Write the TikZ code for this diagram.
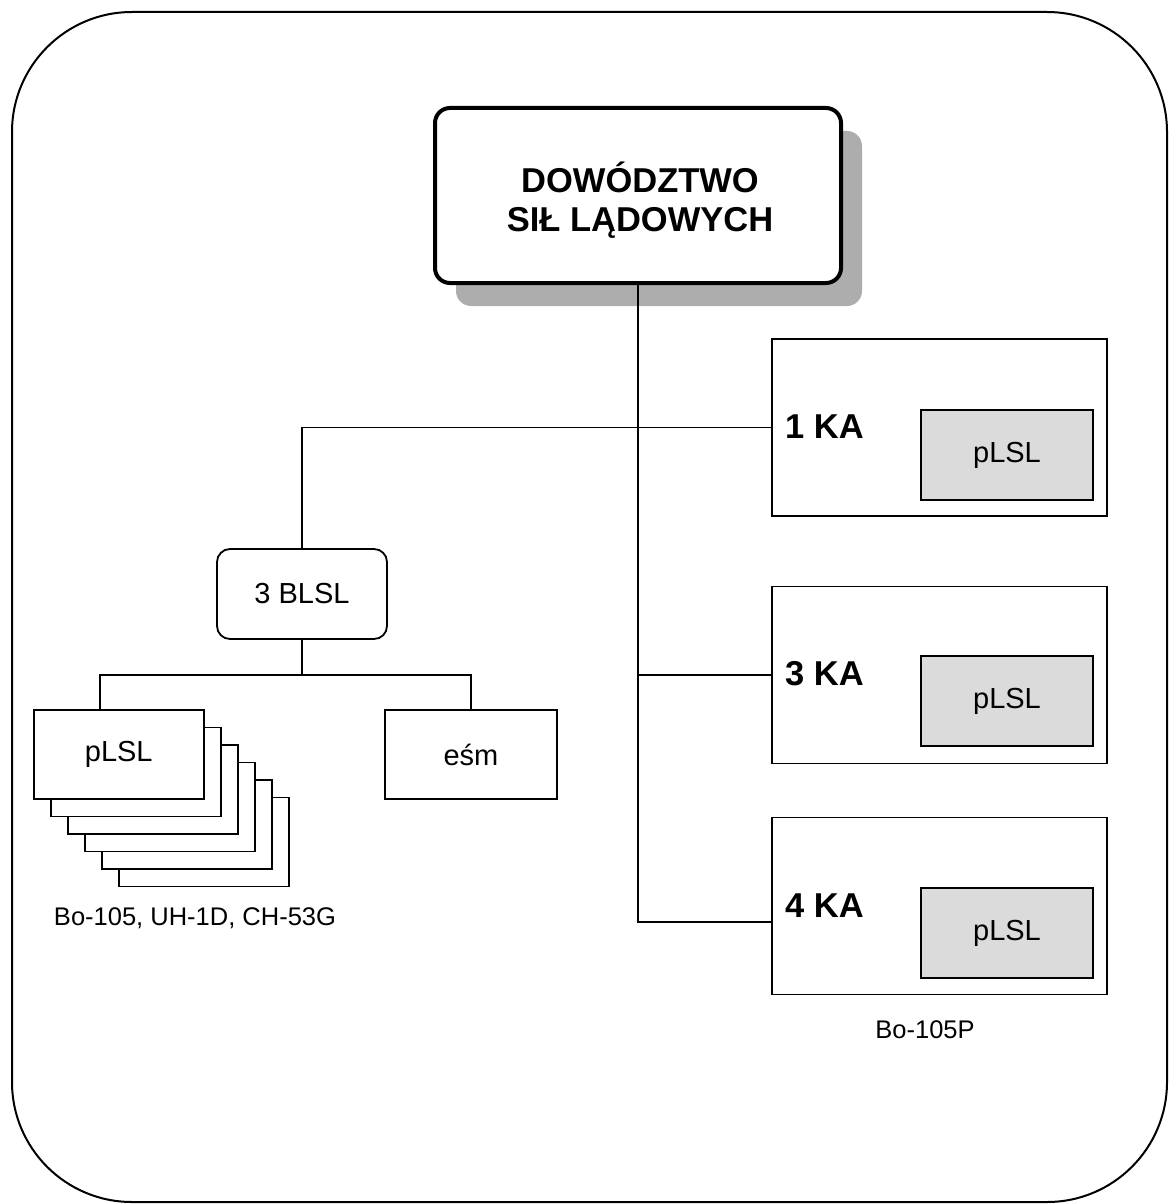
\documentclass[tikz,border=0pt]{standalone}
\usepackage{fontspec}
\setmainfont{Liberation Sans}
\usetikzlibrary{shadows}
\definecolor{shadowgray}{gray}{0.68}
\definecolor{innergray}{gray}{0.86}
\begin{document}
\begin{tikzpicture}[x=1pt,y=-1pt,
  conn/.style={line width=1.8pt},
  box/.style={draw, line width=1.8pt, fill=white, inner sep=0pt},
  reg/.style={font=\fontsize{25.5}{28}\selectfont},
  boxtext/.style={font=\fontsize{29}{32}\selectfont},
  bold/.style={font=\fontsize{34.5}{39}\selectfont\bfseries},
  kabox/.style={box, minimum width=335pt, minimum height=177pt},
  inbox/.style={box, fill=innergray, minimum width=172pt, minimum height=90pt, boxtext},
  stackbox/.style={box, minimum width=170pt, minimum height=89pt},
  kalabel/.style={bold, anchor=base west, inner sep=0pt}]
\useasboundingbox (0,0) rectangle (1169,1204);
% outer frame
\draw[line width=2pt, rounded corners=120pt] (12,12) rectangle (1167,1202);

% top node
\node[box, line width=4pt, rounded corners=15pt, minimum width=406pt, minimum height=175pt,
      drop shadow={shadow xshift=21pt, shadow yshift=-23pt, fill=shadowgray, opacity=1}] (top) at (638,195.5) {};
\node[bold, align=center, inner sep=0pt] (toptext) at (640,200) {DOWÓDZTWO\\SIŁ LĄDOWYCH};

% KA boxes
\node[kabox] (ka1) at (939.5,427.5) {};
\node[kabox] (ka3) at (939.5,675) {};
\node[kabox] (ka4) at (939.5,906) {};
\node[inbox] (in1) at (1007,455) {pLSL};
\node[inbox] (in3) at (1007,701) {pLSL};
\node[inbox] (in4) at (1007,933) {pLSL};
\node[kalabel] (l1) at (785,438) {1 KA};
\node[kalabel] (l3) at (785,685) {3 KA};
\node[kalabel] (l4) at (785,917) {4 KA};

% 3 BLSL
\node[box, rounded corners=13pt, minimum width=170pt, minimum height=90pt, boxtext] (blsl) at (302,594) {3 BLSL};

% stack of pLSL
\foreach \k in {5,4,3,2,1}
  \node[stackbox] (s\k) at ({118.75+17*\k},{754.5+17.5*\k}) {};
\node[stackbox, boxtext] (ps) at (118.75,754.5) {pLSL};
\node[stackbox, minimum width=172pt, boxtext] (esm) at (471,754.5) {eśm};

% labels
\node[reg] (lb1) at (195,918) {Bo-105, UH-1D, CH-53G};
\node[reg] (lb2) at (925,1030) {Bo-105P};

% connectors
\coordinate (bj) at (302,675);
\draw[conn] (blsl.north) |- (ka1.west);
\draw[conn] (top.south) |- ([yshift=-16pt]ka4.west);
\draw[conn] (top.south |- ka3.west) -- (ka3.west);
\draw[conn] (blsl.south) -- (bj);
\draw[conn] ([xshift=-19pt]ps.north) |- (bj) -| (esm.north);
\end{tikzpicture}
\end{document}
